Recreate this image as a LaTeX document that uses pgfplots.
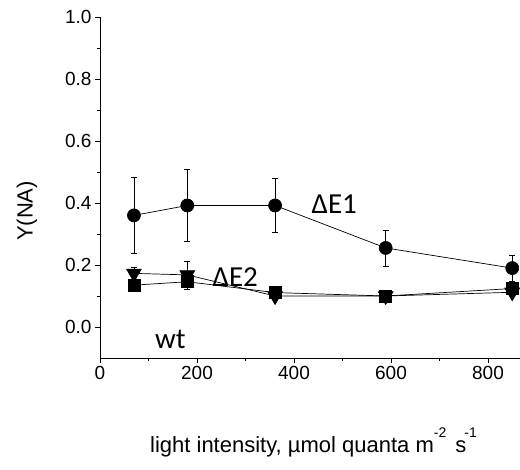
\documentclass[border=0pt]{standalone}
\usepackage{pgfplots}
\pgfplotsset{compat=1.18}
\usepackage{fontspec}
\setmainfont{Liberation Sans}
\newfontfamily\calfont{Carlito}
\pgfplotstableread{
x y e
70 0.360 0.123
180 0.392 0.117
361 0.392 0.087
589 0.255 0.058
850 0.190 0.042
}\dEone
\pgfplotstableread{
x y e
70 0.173 0.018
180 0.168 0.045
361 0.100 0.010
589 0.100 0.008
850 0.112 0.010
}\dEtwo
\pgfplotstableread{
x y e
70 0.135 0.010
180 0.146 0.012
361 0.111 0.008
589 0.100 0.008
850 0.124 0.010
}\wt
\begin{document}
\begin{tikzpicture}
\begin{axis}[
 scale only axis, width=420pt, height=341pt,
 xmin=0, xmax=866, ymin=-0.1, ymax=1.0,
 axis x line=bottom, axis y line=left,
 axis line style={-, line width=0.8pt},
 xtick={0,200,400,600,800}, ytick={0,0.2,0.4,0.6,0.8,1.0},
 minor x tick num=1, minor y tick num=1,
 tick align=outside, major tick length=5pt, minor tick length=3pt,
 every tick/.style={black, line width=0.8pt},
 yticklabel style={/pgf/number format/fixed, /pgf/number format/fixed zerofill, /pgf/number format/precision=1},
 /pgf/number format/assume math mode=true,
 tick label style={font=\fontsize{19}{22}\selectfont},
 clip=false,
 error bars/error bar style={line width=0.6pt, black},
 error bars/error mark options={rotate=90, mark size=3pt, line width=0.6pt, black},
]
\addplot[black, line width=0.7pt, mark=*, mark size=6.5pt, mark options={fill=black, solid},
 error bars/.cd, y dir=both, y explicit] table[x=x, y=y, y error=e]{\dEone};
\addplot[black, line width=0.7pt, mark=square*, mark size=6pt, mark options={fill=black, solid},
 error bars/.cd, y dir=both, y explicit] table[x=x, y=y, y error=e]{\wt};
\addplot[black, line width=0.7pt, mark=triangle*, mark size=8.5pt, mark options={fill=black, rotate=180, solid},
 error bars/.cd, y dir=both, y explicit] table[x=x, y=y, y error=e]{\dEtwo};
\node[anchor=base west, inner sep=0pt, font=\calfont\fontsize{29}{32}\selectfont] at (axis cs:436,0.366) {ΔE1};
\node[anchor=base west, inner sep=0pt, font=\calfont\fontsize{29}{32}\selectfont] at (axis cs:232,0.132) {ΔE2};
\node[anchor=base west, inner sep=0pt, font=\calfont\fontsize{29}{32}\selectfont] at (axis cs:113,-0.07) {wt};
\end{axis}
\node[rotate=90, font=\fontsize{22}{24}\selectfont] at (-73pt,147pt) {Y(NA)};
\node[anchor=base, font=\fontsize{22}{24}\selectfont] at (213.5pt,-95pt) {light intensity, µmol quanta m\raisebox{1.3ex}{\fontsize{14}{16}\selectfont -2}\hspace{9pt}s\hspace{-2pt}\raisebox{1.3ex}{\fontsize{14}{16}\selectfont -1}};
\pgfresetboundingbox
\useasboundingbox (-100pt,-112pt) rectangle (420pt,358pt);
\end{tikzpicture}
\end{document}
